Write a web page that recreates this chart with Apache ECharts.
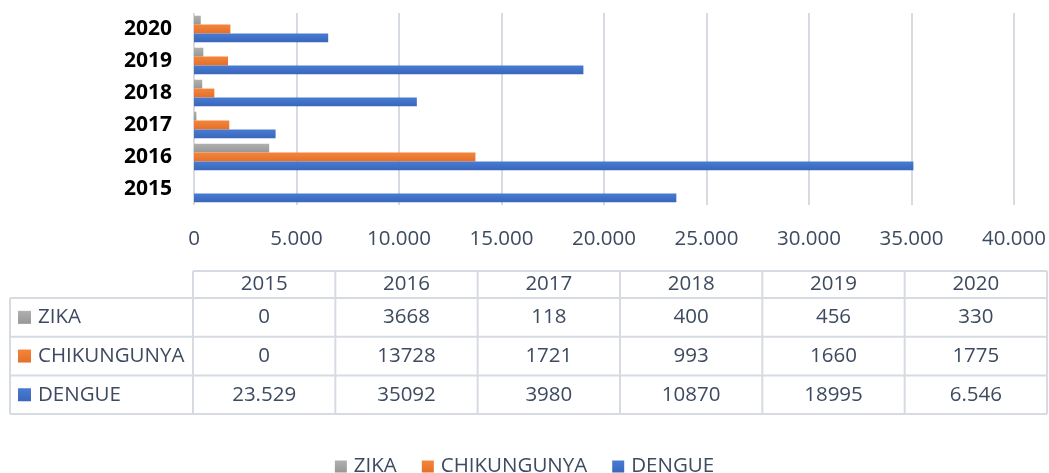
<!DOCTYPE html>
<html>
<head>
<meta charset="utf-8">
<title>Dengue, Chikungunya, Zika</title>
<script src="https://cdn.jsdelivr.net/npm/echarts@6/dist/echarts.min.js"></script>
<style>
  html, body { margin: 0; padding: 0; background: #fff; }
  #main { width: 1049px; height: 473px; }
</style>
</head>
<body>
<div id="main"></div>
<script>
// categories
var years = ['2015', '2016', '2017', '2018', '2019', '2020'];
// series values
var zika = [0, 3668, 118, 400, 456, 330];
var chik = [0, 13728, 1721, 993, 1660, 1775];
var dengue = [23529, 35092, 3980, 10870, 18995, 6546];
// text shown in the data table (as printed in the original)
var zikaText = ['0', '3668', '118', '400', '456', '330'];
var chikText = ['0', '13728', '1721', '993', '1660', '1775'];
var dengueText = ['23.529', '35092', '3980', '10870', '18995', '6.546'];
var seriesNames = ['ZIKA', 'CHIKUNGUNYA', 'DENGUE'];

var FONT = '"Open Sans", "Noto Sans", sans-serif';
var TXT = '#3d4a5f';
var LINE = '#d6dbe2';
var colors = {
  ZIKA: ['#b0b0b0', '#979797'],
  CHIKUNGUNYA: ['#f5843a', '#e4702a'],
  DENGUE: ['#4a7bd2', '#3866bd']
};
function grad(name) {
  return new echarts.graphic.LinearGradient(0, 0, 0, 1, [
    { offset: 0, color: colors[name][0] },
    { offset: 1, color: colors[name][1] }
  ]);
}
function fmt(v) {
  return String(v).replace(/\B(?=(\d{3})+(?!\d))/g, '.');
}

// data table (text only; geometry constants)
var tLeft = 10, tLabelRight = 193, tRight = 1047;
var tHeadTop = 271, tHeadBottom = 298, rowH = 38.7;
function buildTable() {
  var els = [];
  var colW = (tRight - tLabelRight) / years.length;
  var tBottom = tHeadBottom + rowH * 3;
  function line(x1, y1, x2, y2) {
    els.push({ type: 'line', silent: true, z: 1,
      shape: { x1: x1, y1: y1, x2: x2, y2: y2 },
      style: { stroke: LINE, lineWidth: 2 } });
  }
  function text(s, x, y, align) {
    els.push({ type: 'text', silent: true, z: 2,
      style: { text: s, x: x, y: y, fill: TXT, font: '20.5px ' + FONT,
        textAlign: align, textVerticalAlign: 'middle', align: align, verticalAlign: 'middle' } });
  }
  line(tLabelRight, tHeadTop, tRight, tHeadTop);
  for (var r = 0; r <= 3; r++) {
    var y = tHeadBottom + rowH * r;
    line(tLeft, y, tRight, y);
  }
  line(tLeft, tHeadBottom, tLeft, tBottom);
  for (var c = 0; c <= years.length; c++) {
    var x = tLabelRight + colW * c;
    line(x, tHeadTop, x, tBottom);
  }
  years.forEach(function (yr, i) {
    text(yr, tLabelRight + colW * (i + 0.5), (tHeadTop + tHeadBottom) / 2, 'center');
  });
  var rows = [zikaText, chikText, dengueText];
  rows.forEach(function (vals, r) {
    var cy = tHeadBottom + rowH * (r + 0.5);
    els.push({ type: 'rect', silent: true, z: 2,
      shape: { x: 18, y: cy - 6.5, width: 13, height: 13 },
      style: { fill: grad(seriesNames[r]) } });
    text(seriesNames[r], 38, cy, 'left');
    vals.forEach(function (v, i) {
      text(v, tLabelRight + colW * (i + 0.5), cy, 'center');
    });
  });
  return els;
}

var chart = echarts.init(document.getElementById('main'), null, { renderer: 'canvas' });
var seriesData = [zika, chik, dengue];
var option = {
  animation: false,
  textStyle: { fontFamily: FONT },
  grid: { left: 194, right: 32, top: 13, height: 192, containLabel: false },
  legend: {
    data: seriesNames,
    top: 451,
    left: 'center',
    icon: 'rect',
    itemWidth: 12,
    itemHeight: 12,
    itemGap: 25,
    textStyle: { color: TXT, fontSize: 20.5, fontFamily: FONT, padding: [0, 0, 0, 2] }
  },
  xAxis: {
    type: 'value',
    min: 0,
    max: 40000,
    interval: 5000,
    axisLine: { show: false },
    axisTick: { show: false },
    axisLabel: { color: TXT, fontSize: 20.5, fontFamily: FONT, margin: 24, formatter: fmt },
    splitLine: { show: true, lineStyle: { color: LINE, width: 2 } }
  },
  yAxis: {
    type: 'category',
    data: years,
    axisLine: { show: false },
    axisTick: { show: false },
    axisLabel: { color: '#000', fontSize: 21, fontWeight: 'bold', fontFamily: FONT, margin: 22 }
  },
  series: seriesNames.map(function (name, i) {
    return {
      name: name,
      type: 'bar',
      data: seriesData[i],
      barGap: '0%',
      barCategoryGap: '17%',
      itemStyle: { color: grad(name) }
    };
  }),
  graphic: buildTable()
};
chart.setOption(option);
</script>
</body>
</html>
